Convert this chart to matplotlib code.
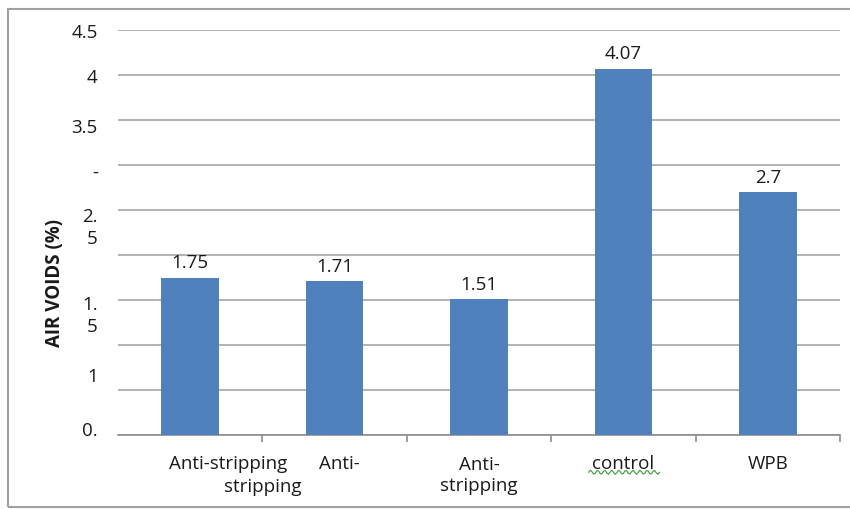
import numpy as np
import matplotlib.pyplot as plt
from matplotlib.patches import Rectangle

plt.rcParams['font.family'] = ['Open Sans', 'DejaVu Sans']

categories = ['Anti-stripping', 'Anti-', 'Anti-\nstripping', 'control', 'WPB']
air_voids = [1.75, 1.71, 1.51, 4.07, 2.7]
value_labels = ['1.75', '1.71', '1.51', '4.07', '2.7']

# y tick labels as they come out of the exported sheet (wrapped / clipped)
ytick_text = ['0.', '1', '1.\n5', '2.\n5', '-', '3.5', '4', '4.5']
ytick_pos = [0.04, 0.64, 1.32, 2.30, 2.91, 3.41, 3.97, 4.47]

bar_color = '#4f81bd'
text_color = '#1a1a1a'
fs = 13.5

fig = plt.figure(figsize=(8.5, 5.09), dpi=100)
ax = fig.add_axes([118 / 850, 1 - 435 / 509, 722 / 850, 405 / 509])

x = np.arange(len(categories))
ax.bar(x, air_voids, width=0.4, color=bar_color, zorder=3)
for xi, v, lab in zip(x, air_voids, value_labels):
    ax.text(xi, v + 0.06, lab, ha='center', va='bottom', fontsize=fs, color=text_color)

ax.set_xlim(-0.5, len(categories) - 0.5)
ax.set_ylim(0, 4.5)
ax.set_yticks(np.arange(0, 4.51, 0.5))
ax.set_yticklabels([])
ax.tick_params(axis='y', length=0)
ax.yaxis.grid(True, color='#a6a6a6', linewidth=1.2, zorder=0)

ax.set_xticks(np.arange(-0.5, len(categories), 1.0)[1:])
ax.set_xticklabels([])
ax.tick_params(axis='x', direction='out', length=5, color='#8c8c8c', width=1.2)

for side in ['top', 'right', 'left']:
    ax.spines[side].set_visible(False)
ax.spines['bottom'].set_color('#8c8c8c')
ax.spines['bottom'].set_linewidth(1.2)

# y tick labels
ytrans = ax.get_yaxis_transform()
for pos, lab in zip(ytick_pos, ytick_text):
    ax.text(-0.028, pos, lab, transform=ytrans, ha='right', va='center',
            fontsize=fs, color=text_color, linespacing=1.25)

# category labels
xtrans = ax.get_xaxis_transform()
ax.text(0.26, -0.072, 'Anti-stripping', transform=xtrans, ha='center', va='center',
        fontsize=fs, color=text_color)
ax.text(0.5, -0.128, 'stripping', transform=xtrans, ha='center', va='center',
        fontsize=fs, color=text_color)
ax.text(1.03, -0.072, categories[1], transform=xtrans, ha='center', va='center',
        fontsize=fs, color=text_color)
ax.text(2, -0.1, categories[2], transform=xtrans, ha='center', va='center',
        fontsize=fs, color=text_color, linespacing=1.2)
ax.text(3, -0.072, categories[3], transform=xtrans, ha='center', va='center',
        fontsize=fs, color=text_color)
ax.text(4, -0.072, categories[4], transform=xtrans, ha='center', va='center',
        fontsize=fs, color=text_color)

# spell-check squiggle under "control"
sx = np.linspace(2.76, 3.25, 44)
sy = -0.092 + 0.005 * np.sin(np.linspace(0, 20 * np.pi, 44))
ax.plot(sx, sy, transform=xtrans, color='#3a9a3a', linewidth=0.8, clip_on=False)

fig.text(55 / 850, 1 - 283 / 509, 'AIR VOIDS (%)', rotation=90, ha='center', va='center',
         fontsize=fs, fontweight='bold', color=text_color)

# outer chart frame
fig.patches.append(Rectangle((8 / 850, 2 / 509), 860 / 850, 498 / 509, transform=fig.transFigure,
                             fill=False, edgecolor='#a0a0a0', linewidth=1.5))

fig.savefig('out.png', dpi=100)
